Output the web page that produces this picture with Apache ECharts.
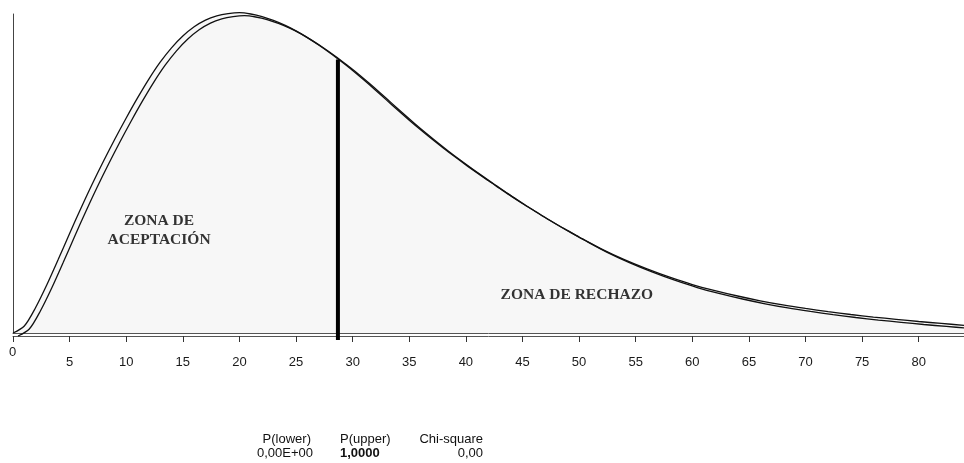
<!DOCTYPE html>
<html>
<head>
<meta charset="utf-8">
<script src="https://cdn.jsdelivr.net/npm/echarts@6/dist/echarts.min.js"></script>
<style>
  html, body { margin: 0; padding: 0; background: #ffffff; }
  #chart { width: 964px; height: 463px; }
</style>
</head>
<body>
<div id="chart"></div>
<script>
// x values (chi-square statistic) and curve heights (relative density, peak ~1)
const curveX = [0,1,2,3,4,5,6,7,8,9,10,11,12,13,14,15,16,17,18,19,20,21,22,23,24,25,26,27,28,29,30,31,32,33,34,35,36,37,38,39,40,41,42,43,44,45,46,47,48,49,50,52,54,56,58,60,62,64,66,68,70,72,74,76,78,80,82,84];
const curveY = [0,0.022,0.08,0.152,0.231,0.312,0.391,0.467,0.539,0.608,0.674,0.737,0.796,0.849,0.894,0.931,0.96,0.981,0.994,1.001,1.004,1.0,0.992,0.98,0.965,0.947,0.926,0.903,0.878,0.851,0.823,0.793,0.762,0.73,0.698,0.667,0.637,0.608,0.58,0.553,0.527,0.502,0.477,0.453,0.429,0.406,0.384,0.362,0.341,0.321,0.301,0.263,0.23,0.201,0.175,0.152,0.133,0.116,0.101,0.088,0.077,0.067,0.058,0.05,0.043,0.036,0.03,0.024];

// critical value line
const criticalX = 28.7;
const criticalTop = 0.857;
const criticalBottom = -0.022;

// zone annotations (data coordinates)
const zoneLabels = [
  { name: 'ZONA DE\nACEPTACIÓN', x: 12.9, y: 0.322 },
  { name: 'ZONA DE RECHAZO', x: 49.8, y: 0.12 }
];

// bottom readout texts
const readHeaders = ['P(lower)', 'P(upper)', 'Chi-square'];
const readValues = ['0,00E+00', '1,0000', '0,00'];

const xTicksMin = 0, xTicksMax = 84, xTickStep = 5;

const curveData = curveX.map((x, i) => [x, curveY[i]]);

const chart = echarts.init(document.getElementById('chart'), null, { renderer: 'canvas' });

const axisCommon = {
  type: 'value',
  min: xTicksMin,
  max: xTicksMax,
  interval: xTickStep,
  splitLine: { show: false },
  position: 'bottom'
};

chart.setOption({
  animation: false,
  backgroundColor: '#ffffff',
  grid: { left: 13, right: 0, top: 14, bottom: 130 },
  xAxis: [
    Object.assign({}, axisCommon, {
      axisLine: { show: true, lineStyle: { color: '#555', width: 1 } },
      axisTick: { show: false },
      axisLabel: { show: false }
    }),
    Object.assign({}, axisCommon, {
      offset: 3,
      axisLine: { show: true, lineStyle: { color: '#555', width: 1 } },
      axisTick: { show: true, length: 6, lineStyle: { color: '#333', width: 1 } },
      axisLabel: {
        show: true,
        margin: 20,
        fontFamily: 'Liberation Sans, Arial, sans-serif',
        fontSize: 13,
        color: '#1a1a1a',
        showMaxLabel: false,
        formatter: v => (v === 0 ? '' : String(v))
      }
    })
  ],
  yAxis: {
    type: 'value',
    min: 0,
    max: 1,
    axisLine: { show: true, lineStyle: { color: '#444', width: 1 } },
    axisTick: { show: false },
    axisLabel: { show: false },
    splitLine: { show: false }
  },
  series: [
    {
      type: 'line',
      xAxisIndex: 0,
      data: curveData,
      smooth: 0.3,
      symbol: 'none',
      clip: false,
      lineStyle: {
        color: '#111',
        width: 1.3,
        shadowColor: '#111',
        shadowBlur: 0,
        shadowOffsetX: 5,
        shadowOffsetY: 3
      },
      areaStyle: { color: '#f3f3f3', origin: 'start' },
      z: 2
    },
    {
      type: 'line',
      xAxisIndex: 0,
      data: [[criticalX, criticalBottom], [criticalX, criticalTop]],
      symbol: 'none',
      clip: false,
      lineStyle: { color: '#000', width: 4 },
      z: 4
    },
    {
      type: 'scatter',
      xAxisIndex: 0,
      data: zoneLabels.map(d => ({ name: d.name, value: [d.x, d.y] })),
      symbolSize: 0,
      silent: true,
      label: {
        show: true,
        position: 'inside',
        formatter: p => p.name,
        fontFamily: 'Liberation Serif, Times New Roman, serif',
        fontWeight: 'bold',
        fontSize: 15.5,
        lineHeight: 19,
        color: '#000',
        align: 'center',
        verticalAlign: 'middle'
      },
      z: 5
    }
  ],
  graphic: [
    { type: 'text', left: 9, top: 346, style: { text: '0', font: '13px Liberation Sans, Arial, sans-serif', fill: '#1a1a1a' } },
    { type: 'text', style: { text: readHeaders[0], x: 311, y: 439, align: 'right', verticalAlign: 'middle', font: '13px Liberation Sans, Arial, sans-serif', fill: '#111' } },
    { type: 'text', style: { text: readHeaders[1], x: 340, y: 439, align: 'left', verticalAlign: 'middle', font: '13px Liberation Sans, Arial, sans-serif', fill: '#111' } },
    { type: 'text', style: { text: readHeaders[2], x: 483, y: 439, align: 'right', verticalAlign: 'middle', font: '13px Liberation Sans, Arial, sans-serif', fill: '#111' } },
    { type: 'text', style: { text: readValues[0], x: 313, y: 453, align: 'right', verticalAlign: 'middle', font: '13px Liberation Sans, Arial, sans-serif', fill: '#111' } },
    { type: 'text', style: { text: readValues[1], x: 340, y: 453, align: 'left', verticalAlign: 'middle', font: 'bold 13px Liberation Sans, Arial, sans-serif', fill: '#111' } },
    { type: 'text', style: { text: readValues[2], x: 483, y: 453, align: 'right', verticalAlign: 'middle', font: '13px Liberation Sans, Arial, sans-serif', fill: '#111' } }
  ]
});
</script>
</body>
</html>
